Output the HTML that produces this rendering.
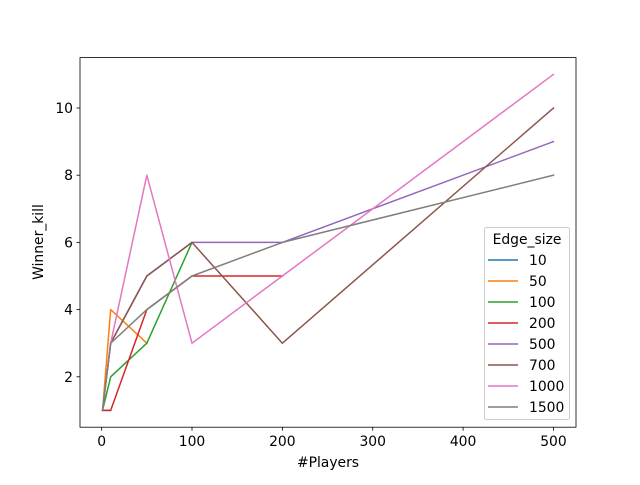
<!DOCTYPE html>
<html><head><meta charset="utf-8"><style>
body{margin:0;background:#fff}
text{font-family:"DejaVu Sans","Liberation Sans",sans-serif;font-size:13.9px;fill:#000}
</style></head><body>
<svg id="chart" width="640" height="480">
<rect width="640" height="480" fill="#fff"/>
<g id="plot"></g>
<rect x="80" y="57.6" width="496" height="369.6" fill="none" stroke="#000" stroke-width="0.8"/>
<g id="axes"></g>
<text x="328" y="467" text-anchor="middle">#Players</text>
<text transform="translate(43,242) rotate(-90)" text-anchor="middle">Winner_kill</text>
<g id="legend"></g>
</svg>
<script>
const xVals=[1,10,50,100,200,500];
const seriesNames=["10","50","100","200","500","700","1000","1500"];
const colors=["#1f77b4","#ff7f0e","#2ca02c","#d62728","#9467bd","#8c564b","#e377c2","#7f7f7f"];
const s10=[1,1];
const s50=[1,4,3];
const s100=[1,2,3,6];
const s200=[1,1,4,5,5];
const s500=[1,3,5,6,6,9];
const s700=[1,3,5,6,3,10];
const s1000=[1,3,8,3,5,11];
const s1500=[1,3,4,5,6,8];
const seriesVals=[s10,s50,s100,s200,s500,s700,s1000,s1500];
const xTicks=[0,100,200,300,400,500];
const yTicks=[2,4,6,8,10];
const NS="http://www.w3.org/2000/svg";
const x0=80,x1=576,y0=427.2,y1=57.6;
const xmin=Math.min(...xVals),xmax=Math.max(...xVals);
const xpad=(xmax-xmin)*0.05;
const allY=seriesVals.flat();
const ymin=Math.min(...allY),ymax=Math.max(...allY),ypad=(ymax-ymin)*0.05;
const sx=v=>x0+(v-(xmin-xpad))/((xmax+xpad)-(xmin-xpad))*(x1-x0);
const sy=v=>y0-(v-(ymin-ypad))/((ymax+ypad)-(ymin-ypad))*(y0-y1);
function mk(tag,attrs,parent){const e=document.createElementNS(NS,tag);for(const k in attrs)e.setAttribute(k,attrs[k]);parent.appendChild(e);return e;}
const plot=document.getElementById('plot');
seriesVals.forEach((ys,i)=>{
  const pts=ys.map((y,j)=>sx(xVals[j])+","+sy(y)).join(" ");
  const p=mk('polyline',{points:pts,fill:"none",stroke:colors[i],"stroke-width":1.5,"stroke-linejoin":"round","stroke-linecap":"square"},plot);
  
  
});
const axes=document.getElementById('axes');
xTicks.forEach(t=>{
  const l=mk('line',{x1:sx(t),x2:sx(t),y1:y0,y2:y0+3.5,stroke:"#000","stroke-width":0.8},axes);
  
  
  const tx=mk('text',{x:sx(t),y:y0+19,"text-anchor":"middle"},axes);tx.textContent=t;
  
  
});
yTicks.forEach(t=>{
  const l=mk('line',{x1:x0-3.5,x2:x0,y1:sy(t),y2:sy(t),stroke:"#000","stroke-width":0.8},axes);
  
  
  const tx=mk('text',{x:x0-7,y:sy(t)+5,"text-anchor":"end"},axes);tx.textContent=t;
  
  
});
const lg=document.getElementById('legend');
const box=mk('rect',{x:484.5,y:227.5,width:85,height:192,rx:2,fill:"#fff","fill-opacity":0.8,stroke:"#ccc","stroke-width":1},lg);


const tt=mk('text',{x:527,y:244,"text-anchor":"middle"},lg);tt.textContent="Edge_size";


seriesNames.forEach((n,i)=>{
  const y=260+i*21;
  const g=mk('g',{},lg);
  
  
  mk('line',{x1:488,x2:518,y1:y,y2:y,stroke:colors[i],"stroke-width":1.5},g);
  const t=mk('text',{x:529,y:y+5},g);t.textContent=n;
});
</script>
</body></html>
